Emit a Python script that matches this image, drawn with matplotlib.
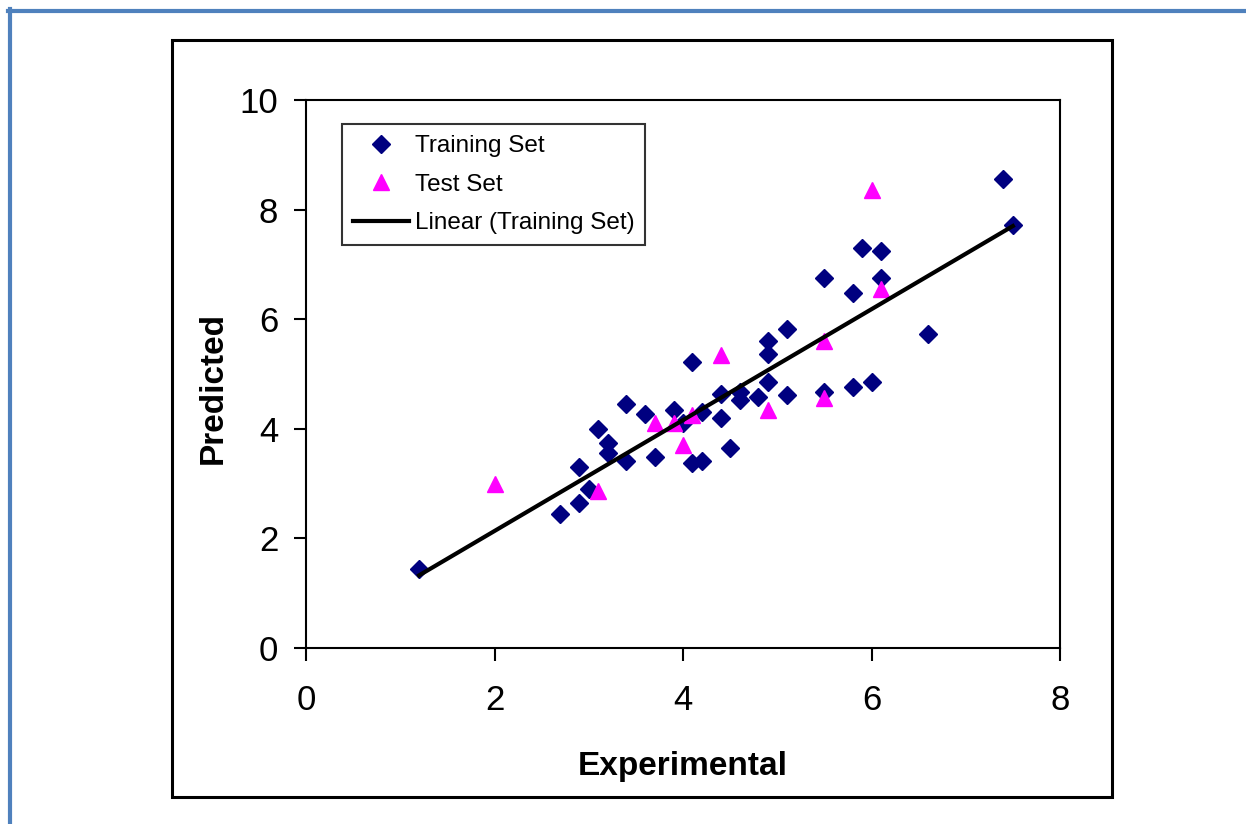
import numpy as np
import matplotlib
matplotlib.use('Agg')
from matplotlib import pyplot as plt
from matplotlib.patches import Rectangle
from matplotlib.lines import Line2D

plt.rcParams['font.family'] = ['Liberation Sans', 'DejaVu Sans']

# 训练集
train_x = [1.2, 2.7, 2.9, 2.9, 3.0, 3.1, 3.2, 3.2, 3.4, 3.4,
           3.6, 3.7, 3.9, 4.0, 4.1, 4.1, 4.2, 4.2, 4.4, 4.4,
           4.5, 4.6, 4.6, 4.8, 4.9, 4.9, 4.9, 5.1, 5.1, 5.5,
           5.8, 6.0, 5.5, 5.8, 5.9, 6.1, 6.1, 6.6, 7.4, 7.5]
train_y = [1.45, 2.45, 3.3, 2.65, 2.9, 4.0, 3.75, 3.55, 4.45, 3.42,
           4.27, 3.48, 4.35, 4.1, 5.22, 3.37, 3.42, 4.3, 4.63, 4.2,
           3.65, 4.67, 4.53, 4.58, 5.6, 5.37, 4.86, 5.83, 4.62, 4.68,
           4.77, 4.86, 6.75, 6.47, 7.3, 7.25, 6.75, 5.73, 8.55, 7.72]

# 测试集
test_x = [2.0, 3.1, 3.7, 3.9, 4.0, 4.1, 4.4, 4.9, 5.5, 5.5, 6.0, 6.1]
test_y = [3.0, 2.87, 4.1, 4.1, 3.7, 4.25, 5.35, 4.35, 5.6, 4.57, 8.35, 6.55]

x_ticks = [0, 2, 4, 6, 8]
y_ticks = [0, 2, 4, 6, 8, 10]

fig = plt.figure(figsize=(12.46, 8.24), dpi=100)

# 外框
fig.add_artist(Line2D([8/1246, 1], [1-10.5/824, 1-10.5/824], color='#4F81BD', lw=3, transform=fig.transFigure))
fig.add_artist(Line2D([10/1246, 10/1246], [0, 1-8.5/824], color='#4F81BD', lw=3, transform=fig.transFigure))
fig.add_artist(Rectangle((172/1246, 1-797/824), (1112-172)/1246, (797-40)/824,
                         fill=False, ec='black', lw=2.2, transform=fig.transFigure))

ax = fig.add_axes([306/1246, 1-648/824, (1060-306)/1246, (648-100)/824])

ax.plot(train_x, train_y, 'D', color='#000080', ms=9, mec='#000080', label='Training Set')
ax.plot(test_x, test_y, '^', color='#FF00FF', ms=12, mec='#FF00FF', label='Test Set')

# 线性拟合
k, b = np.polyfit(train_x, train_y, 1)
xs = np.array([min(train_x), max(train_x)])
ax.plot(xs, k * xs + b, color='black', lw=3, label='Linear (Training Set)')

ax.set_xlim(0, 8)
ax.set_ylim(0, 10)
ax.set_xticks(x_ticks)
ax.set_yticks(y_ticks)
ax.tick_params(direction='out', length=9, width=1.5, labelsize=25, pad=11)
ax.tick_params(axis='x', pad=17)
for s in ax.spines.values():
    s.set_linewidth(1.5)

ax.set_xlabel('Experimental', fontsize=24, fontweight='bold')
ax.set_ylabel('Predicted', fontsize=24, fontweight='bold')
ax.xaxis.label.set_va('center')
ax.yaxis.label.set_va('center')
ax.xaxis.set_label_coords(0.5, -0.217)
ax.yaxis.set_label_coords(-0.123, 0.474)

leg = ax.legend(loc='upper left', bbox_to_anchor=(0.0477, 0.956), borderaxespad=0,
                fontsize=17.5, frameon=True, fancybox=False, edgecolor='black',
                handlelength=2.3, handletextpad=0.25, labelspacing=0.68, borderpad=0.45)
leg.get_frame().set_linewidth(1.5)

plt.savefig('out.png', dpi=100)
